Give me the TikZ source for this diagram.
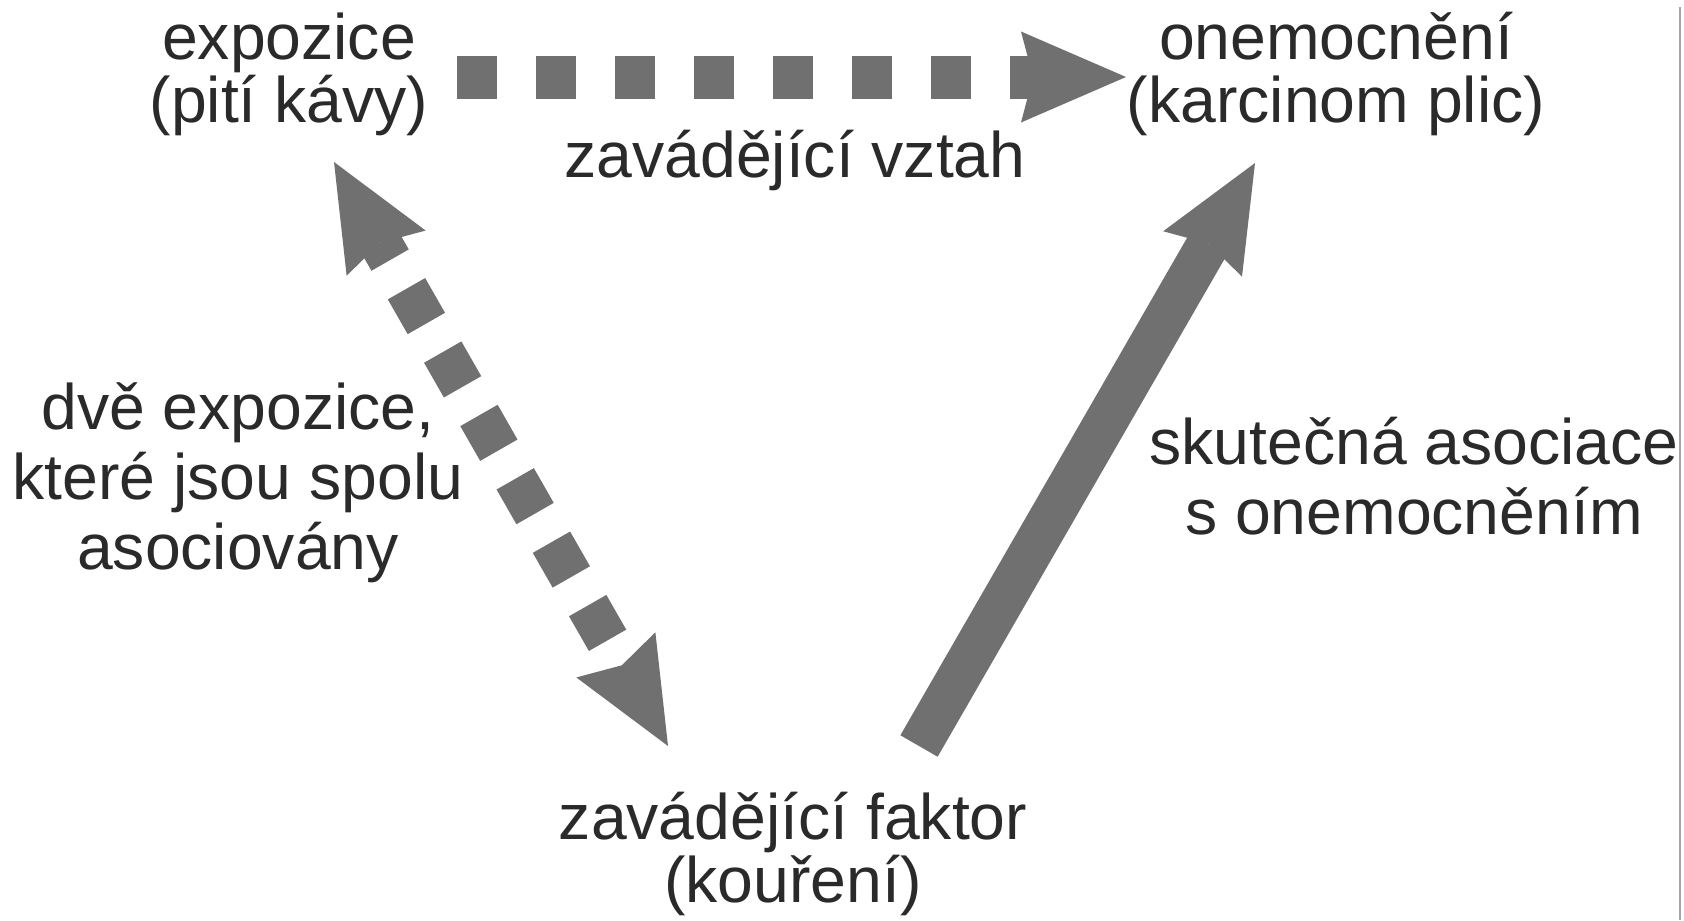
\documentclass[tikz,border=0pt]{standalone}
\usepackage{fontspec}
\setmainfont{Liberation Sans}
\usetikzlibrary{arrows.meta}
\definecolor{sipkaseda}{RGB}{112,112,112}
\definecolor{textseda}{RGB}{42,42,42}

\begin{document}
\begin{tikzpicture}[
	popis/.style={anchor=base,align=center,text=textseda,inner sep=0pt,
		font=\fontsize{18.3}{19.8}\selectfont},
	tesny/.style={font=\fontsize{18.3}{17.9}\selectfont},
	hrot/.style={-{Stealth[length=10.5mm,width=9.1mm,inset=1.2mm,line width=0pt]}},
	sipka/.style={draw=sipkaseda,line width=0.43cm}
]
\useasboundingbox (0,0) rectangle (16.84,9.2);

%Popisky (base = posledni radek)
\node[popis,tesny] (expo) at (2.89,7.98) {expozice\\(pití kávy)};
\node[popis,tesny] (nemoc) at (13.36,7.98) {onemocnění\\(karcinom plic)};
\node[popis,tesny] (faktor) at (7.93,0.18) {zavádějící faktor\\(kouření)};
\node[popis] (vztah) at (7.95,7.43) {zavádějící vztah};
\node[popis] (spolu) at (2.38,3.51) {dvě expozice,\\které jsou spolu\\asociovány};
\node[popis] (skutecna) at (14.14,3.86) {skutečná asociace\\s onemocněním};

%Konce sipek
\coordinate (expoVpravo) at (4.57,8.43);
\coordinate (nemocVlevo) at (11.26,8.43);
\coordinate (expoDole) at (3.34,7.58);
\coordinate (faktorNahore) at (6.68,1.74);
\coordinate (faktorVpravo) at (9.19,1.74);
\coordinate (nemocDole) at (12.55,7.57);

%Sipky
\draw[sipka,hrot,dash pattern=on 0.40cm off 0.39cm] (expoVpravo) -- (nemocVlevo);
\draw[sipka,{Stealth[length=10.5mm,width=9.1mm,inset=1.2mm,line width=0pt]}-{Stealth[length=10.5mm,width=9.1mm,inset=1.2mm,line width=0pt]},
	dash pattern=on 0.40cm off 0.33cm,dash phase=0.2cm] (expoDole) -- (faktorNahore);
\draw[sipka,hrot] (faktorVpravo) -- (nemocDole);

%Okraj
\draw[gray!70,line width=0.02cm] (16.80,0) -- (16.80,9.13);

\end{tikzpicture}
\end{document}
